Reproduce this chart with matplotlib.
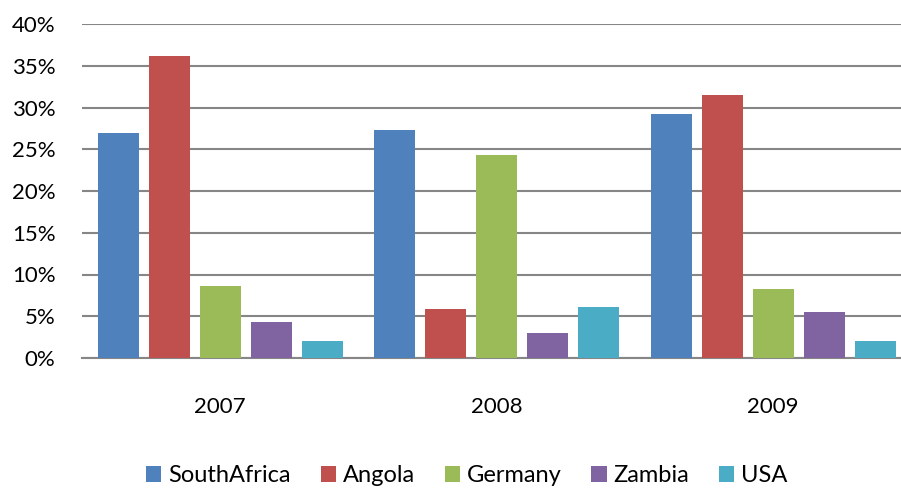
import numpy as np
import matplotlib
matplotlib.use("Agg")
import matplotlib.pyplot as plt

# data (percent)
years = ["2007", "2008", "2009"]
countries = ["SouthAfrica", "Angola", "Germany", "Zambia", "USA"]
south_africa = [26.9, 27.3, 29.2]
angola = [36.2, 5.9, 31.5]
germany = [8.6, 24.3, 8.3]
zambia = [4.3, 3.0, 5.5]
usa = [2.0, 6.1, 2.0]
series = [south_africa, angola, germany, zambia, usa]

colors = ["#4F81BD", "#C0504D", "#9BBB59", "#8064A2", "#4BACC6"]

plt.rcParams['font.family'] = ['Lato', 'DejaVu Sans']

fig = plt.figure(figsize=(9.01, 4.88), dpi=100)
ax = fig.add_axes([82 / 901, 130 / 488, 829.5 / 901, 334 / 488])

x = np.arange(len(years))
pitch = 0.1845
width = 0.148
for i, (name, vals) in enumerate(zip(countries, series)):
    ax.bar(x + (i - 2) * pitch, vals, width, color=colors[i], label=name, zorder=3)

ax.set_xlim(-0.5, 2.5)
ax.set_ylim(0, 40)
ax.set_yticks(range(0, 41, 5))
ax.set_yticklabels([f"{v}%" for v in range(0, 41, 5)])
ax.set_xticks(x)
ax.set_xticklabels(years)
ax.yaxis.grid(True, color="#868686", linewidth=1.5, zorder=0)
for s in ["top", "right", "left"]:
    ax.spines[s].set_visible(False)
ax.spines["bottom"].set_color("#868686")
ax.spines["bottom"].set_linewidth(1.5)
ax.tick_params(axis="both", length=0, labelsize=16, colors="black")
ax.tick_params(axis="x", pad=28)
ax.tick_params(axis="y", pad=19)

fig.legend(loc="center", bbox_to_anchor=(467 / 901, 1 - 476 / 488), ncol=5,
           frameon=False, fontsize=17, handlelength=0.65, handleheight=0.65,
           handletextpad=0.3, columnspacing=1.25, borderaxespad=0)

fig.savefig("out.png", dpi=100)
